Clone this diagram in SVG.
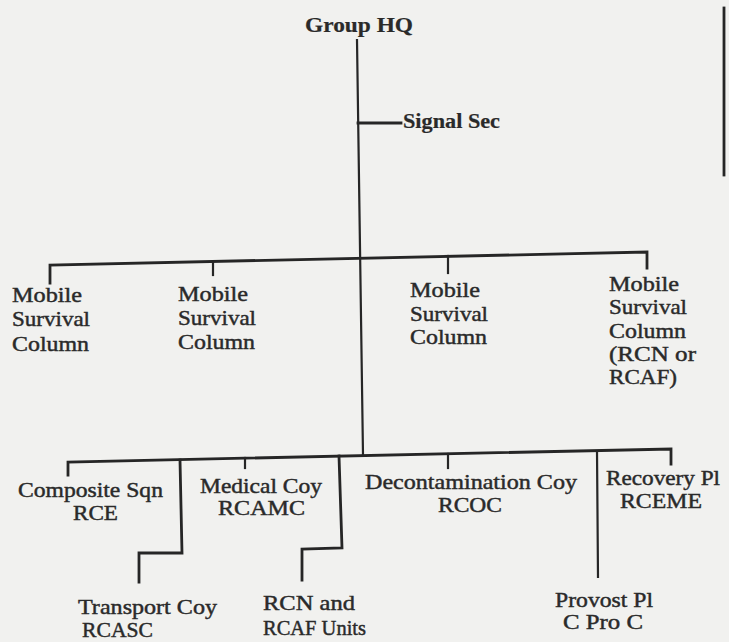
<svg xmlns="http://www.w3.org/2000/svg" width="729" height="642" viewBox="0 0 729 642">
<style>
  .bg { fill: #f1f1ef; }
  .ln { fill: none; stroke: #262626; stroke-width: 2.2; stroke-linecap: square; stroke-linejoin: miter; }
  .thick { stroke-width: 2.8; }
  .t { font-family: "Liberation Serif", "Times New Roman", serif; font-size: 21.5px; fill: #2a2a2a; stroke: #2a2a2a; stroke-width: 0.45; }
  .h { font-weight: bold; font-size: 20px; stroke-width: 0.2; }
</style>
<rect class="bg" x="0" y="0" width="729" height="642"/>
<g id="connectors">
  <path class="ln" d="M357,40 L363,455"/>
  <path class="ln thick" d="M358,123 L401,123"/>
  <path class="ln thick" d="M50,283 L50,265 L647,252 L647,268"/>
  <path class="ln" d="M213,263 L213,275"/>
  <path class="ln" d="M448,256 L448,273"/>
  <path class="ln thick" d="M68,475 L68,462 L671,449 L671,464"/>
  <path class="ln" d="M245,458 L245,468"/>
  <path class="ln" d="M448,454 L448,468"/>
  <path class="ln thick" d="M180,460 L182,553 L139,553 L139,582"/>
  <path class="ln thick" d="M339,456 L342,548 L302,549 L302,580"/>
  <path class="ln" d="M597,451 L598,577"/>
  <path class="ln thick" d="M724,8 L724,175"/>
</g>
<g id="group-hq"><text class="t h" x="305" y="32" textLength="108" lengthAdjust="spacingAndGlyphs">Group HQ</text></g>
<g id="signal-sec"><text class="t h" x="403" y="128" textLength="97" lengthAdjust="spacingAndGlyphs">Signal Sec</text></g>
<g id="msc-1">
  <text class="t" x="12" y="302" textLength="70" lengthAdjust="spacingAndGlyphs">Mobile</text>
  <text class="t" x="12" y="326" textLength="78" lengthAdjust="spacingAndGlyphs">Survival</text>
  <text class="t" x="12" y="351" textLength="77" lengthAdjust="spacingAndGlyphs">Column</text>
</g>
<g id="msc-2">
  <text class="t" x="178" y="301" textLength="70" lengthAdjust="spacingAndGlyphs">Mobile</text>
  <text class="t" x="178" y="325" textLength="78" lengthAdjust="spacingAndGlyphs">Survival</text>
  <text class="t" x="178" y="349" textLength="77" lengthAdjust="spacingAndGlyphs">Column</text>
</g>
<g id="msc-3">
  <text class="t" x="410" y="297" textLength="70" lengthAdjust="spacingAndGlyphs">Mobile</text>
  <text class="t" x="410" y="321" textLength="78" lengthAdjust="spacingAndGlyphs">Survival</text>
  <text class="t" x="410" y="344" textLength="77" lengthAdjust="spacingAndGlyphs">Column</text>
</g>
<g id="msc-4">
  <text class="t" x="609" y="291" textLength="70" lengthAdjust="spacingAndGlyphs">Mobile</text>
  <text class="t" x="609" y="314" textLength="78" lengthAdjust="spacingAndGlyphs">Survival</text>
  <text class="t" x="609" y="338" textLength="77" lengthAdjust="spacingAndGlyphs">Column</text>
  <text class="t" x="609" y="361" textLength="87" lengthAdjust="spacingAndGlyphs">(RCN or</text>
  <text class="t" x="609" y="384" textLength="68" lengthAdjust="spacingAndGlyphs">RCAF)</text>
</g>
<g id="composite-sqn">
  <text class="t" x="18" y="497" textLength="145" lengthAdjust="spacingAndGlyphs">Composite Sqn</text>
  <text class="t" x="73" y="520" textLength="45" lengthAdjust="spacingAndGlyphs">RCE</text>
</g>
<g id="medical-coy">
  <text class="t" x="200" y="493" textLength="122" lengthAdjust="spacingAndGlyphs">Medical Coy</text>
  <text class="t" x="218" y="515" textLength="87" lengthAdjust="spacingAndGlyphs">RCAMC</text>
</g>
<g id="decontamination-coy">
  <text class="t" x="365" y="489" textLength="212" lengthAdjust="spacingAndGlyphs">Decontamination Coy</text>
  <text class="t" x="438" y="512" textLength="64" lengthAdjust="spacingAndGlyphs">RCOC</text>
</g>
<g id="recovery-pl">
  <text class="t" x="606" y="485" textLength="114" lengthAdjust="spacingAndGlyphs">Recovery Pl</text>
  <text class="t" x="620" y="508" textLength="82" lengthAdjust="spacingAndGlyphs">RCEME</text>
</g>
<g id="transport-coy">
  <text class="t" x="78" y="614" textLength="139" lengthAdjust="spacingAndGlyphs">Transport Coy</text>
  <text class="t" x="82" y="637" textLength="71" lengthAdjust="spacingAndGlyphs">RCASC</text>
</g>
<g id="rcn-rcaf-units">
  <text class="t" x="263" y="610" textLength="92" lengthAdjust="spacingAndGlyphs">RCN and</text>
  <text class="t" x="263" y="635" textLength="103" lengthAdjust="spacingAndGlyphs">RCAF Units</text>
</g>
<g id="provost-pl">
  <text class="t" x="555" y="607" textLength="98" lengthAdjust="spacingAndGlyphs">Provost Pl</text>
  <text class="t" x="563" y="629" textLength="80" lengthAdjust="spacingAndGlyphs">C Pro C</text>
</g>
</svg>
